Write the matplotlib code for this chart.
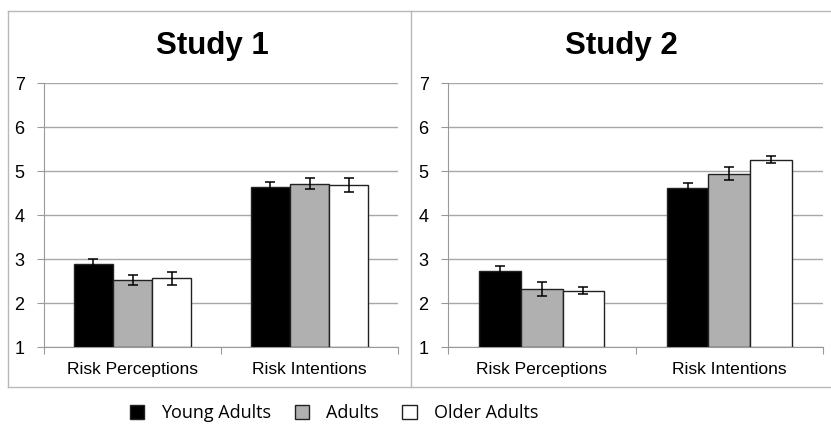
import numpy as np
import matplotlib.pyplot as plt
from matplotlib.patches import Patch
from matplotlib.lines import Line2D

categories = ['Risk Perceptions', 'Risk Intentions']
groups = ['Young Adults', 'Adults', 'Older Adults']
colors = ['black', '#b0b0b0', 'white']

# study 1 means and error bars (young, adults, older) per category
s1_means = [[2.89, 2.53, 2.56], [4.63, 4.71, 4.69]]
s1_err = [[0.12, 0.11, 0.15], [0.11, 0.13, 0.16]]
# study 2
s2_means = [[2.73, 2.32, 2.28], [4.62, 4.94, 5.26]]
s2_err = [[0.11, 0.15, 0.08], [0.10, 0.15, 0.08]]

W, H = 831, 428
fig = plt.figure(figsize=(W / 100, H / 100), dpi=100)
plt.rcParams['font.family'] = ['Liberation Sans', 'DejaVu Sans']


def px_axes(x0, x1, ytop, ybot):
    return fig.add_axes([x0 / W, (H - ybot) / H, (x1 - x0) / W, (ybot - ytop) / H])


def draw_panel(ax, means, errs, title, title_x):
    bw = 0.222
    for g in range(3):
        xs = np.arange(len(categories)) + (g - 1) * bw
        vals = [m[g] for m in means]
        ers = [e[g] for e in errs]
        ax.bar(xs, np.array(vals) - 1, bottom=1, width=bw, color=colors[g],
               edgecolor='#222222', linewidth=1, zorder=3)
        ax.errorbar(xs, vals, yerr=ers, fmt='none', ecolor='black',
                    elinewidth=1.1, capsize=3.5, capthick=1.1, zorder=4)
    ax.set_xlim(-0.5, 1.5)
    ax.set_ylim(1, 7)
    ax.set_yticks(range(1, 8))
    ax.yaxis.grid(True, color='#a8a8a8', linewidth=1)
    ax.set_axisbelow(True)
    ax.set_xticks([-0.5, 0.5, 1.5])
    ax.set_xticklabels([])
    ax.set_xticks([0, 1], minor=True)
    ax.set_xticklabels(categories, minor=True, fontsize=12.6)
    ax.tick_params(axis='x', which='minor', length=0, pad=11)
    ax.tick_params(axis='x', which='major', length=5, color='#999999', direction='out')
    ax.tick_params(axis='y', length=5, color='#999999', labelsize=13, pad=9)
    for s in ['top', 'right']:
        ax.spines[s].set_visible(False)
    for s in ['left', 'bottom']:
        ax.spines[s].set_color('#999999')
    fig.text(title_x / W, (H - 46) / H, title, ha='center', va='center',
             fontsize=22.5, fontweight='bold')


ax1 = px_axes(44, 398, 83, 347)
ax2 = px_axes(448, 823, 83, 347)
draw_panel(ax1, s1_means, s1_err, 'Study 1', 212)
draw_panel(ax2, s2_means, s2_err, 'Study 2', 621)

# panel borders
bc = '#b8b8b8'
def fline(xs, ys):
    fig.add_artist(Line2D([x / W for x in xs], [(H - y) / H for y in ys],
                          color=bc, linewidth=1))
fline([8, 831], [11, 11])
fline([8, 831], [387, 387])
fline([8, 8], [11, 387])
fline([411, 411], [11, 387])

handles = [Patch(facecolor=c, edgecolor='#222222', linewidth=1) for c in colors]
fig.legend(handles, groups, loc='center', bbox_to_anchor=(334 / W, (H - 413) / H),
           ncol=3, frameon=False, handlelength=0.8, handleheight=0.8,
           columnspacing=1.3, handletextpad=0.95,
           prop={'family': ['Open Sans', 'DejaVu Sans'], 'size': 13})

fig.savefig('out.png', dpi=100)
